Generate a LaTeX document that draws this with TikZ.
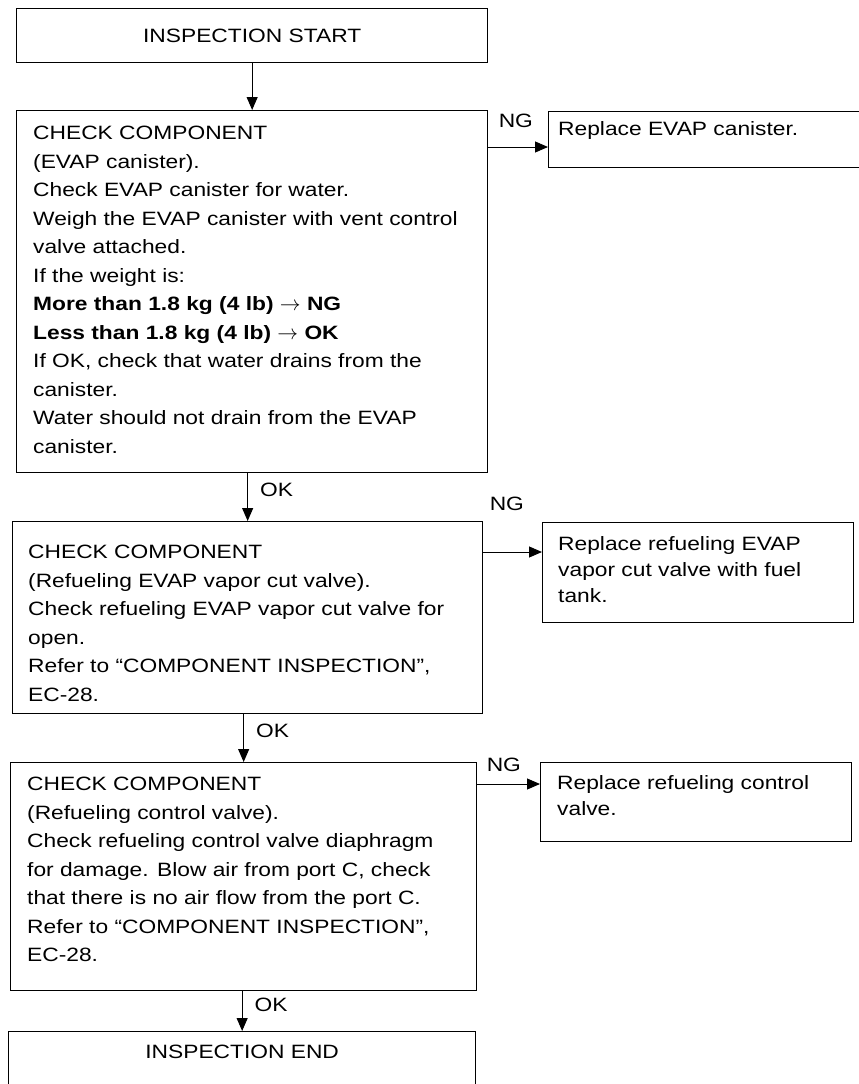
\documentclass[tikz,border=0pt]{standalone}
\usepackage{fontspec}
\setmainfont{Liberation Sans}[FakeStretch=1.18]
\usetikzlibrary{positioning, arrows.meta, calc}

\begin{document}
\begin{tikzpicture}[
    x=1pt, y=-1pt,
    frame/.style={draw, line width=1.3pt, anchor=north west, inner sep=0pt},
    body/.style={anchor=north west, align=left, inner sep=0pt, font=\fontsize{19.3}{28.5}\selectfont},
    side/.style={body, font=\fontsize{19.3}{26.3}\selectfont},
    lbl/.style={inner sep=0pt, font=\fontsize{19.3}{22}\selectfont},
    >={Triangle[length=13pt, width=11pt]},
    flow/.style={->, line width=1pt}
]
    \clip (0,0) rectangle (859,1084);
    \fill[white] (0,0) rectangle (859,1084);

    % Start of the inspection
    \node[frame, minimum width=471pt, minimum height=54pt] (start) at (16,8) {};
    \node[lbl] (starttxt) at (start.center) {INSPECTION START};

    % Step 1: EVAP canister
    \node[frame, minimum width=471pt, minimum height=362pt] (chk1) at (16,110) {};
    \node[body] (chk1txt) at (33,126) {CHECK COMPONENT\\(EVAP canister).\\Check EVAP canister for water.\\Weigh the EVAP canister with vent control\\valve attached.\\If the weight is:\\\textbf{More than 1.8 kg (4 lb) $\rightarrow$ NG}\\\textbf{Less than 1.8 kg (4 lb) $\rightarrow$ OK}\\If OK, check that water drains from the\\canister.\\Water should not drain from the EVAP\\canister.};
    \node[frame, minimum width=330pt, minimum height=56pt] (rep1) at (548,111) {};
    \node[side] (rep1txt) at (558,121) {Replace EVAP canister.};

    % Step 2: refueling EVAP vapor cut valve
    \node[frame, minimum width=470pt, minimum height=192pt] (chk2) at (12,521) {};
    \node[body] (chk2txt) at (28,545) {CHECK COMPONENT\\(Refueling EVAP vapor cut valve).\\Check refueling EVAP vapor cut valve for\\open.\\Refer to “COMPONENT INSPECTION”,\\EC-28.};
    \node[frame, minimum width=311pt, minimum height=100pt] (rep2) at (542,522) {};
    \node[side] (rep2txt) at (558,536) {Replace refueling EVAP\\vapor cut valve with fuel\\tank.};

    % Step 3: refueling control valve
    \node[frame, minimum width=466pt, minimum height=228pt] (chk3) at (10,762) {};
    \node[body] (chk3txt) at (27,777) {CHECK COMPONENT\\(Refueling control valve).\\Check refueling control valve diaphragm\\for damage. Blow air from port C, check\\that there is no air flow from the port C.\\Refer to “COMPONENT INSPECTION”,\\EC-28.};
    \node[frame, minimum width=311pt, minimum height=79pt] (rep3) at (540,762) {};
    \node[side] (rep3txt) at (557,775) {Replace refueling control\\valve.};

    % End
    \node[frame, minimum width=467pt, minimum height=80pt] (finish) at (8,1031) {};
    \node[lbl] (finishtxt) at ([yshift=-21pt]finish.north) {INSPECTION END};

    % OK path
    \draw[flow] (start.south) -- (chk1.north);
    \draw[flow] (chk1.south -| chk2.north) -- (chk2.north)
        node[lbl, pos=0.35, right=12pt] (ok1) {OK};
    \draw[flow] (chk2.south -| chk3.north) -- (chk3.north)
        node[lbl, pos=0.35, right=12pt] (ok2) {OK};
    \draw[flow] (chk3.south -| finish.north) -- (finish.north)
        node[lbl, pos=0.35, right=12pt] (ok3) {OK};

    % NG branches
    \draw[flow] ($(chk1.north east)+(0,37)$) coordinate (ng1s) -- (ng1s -| rep1.west)
        node[lbl, pos=0, anchor=south west, xshift=10pt, yshift=19pt] (ng1) {NG};
    \draw[flow] ($(chk2.north east)+(0,31)$) coordinate (ng2s) -- (ng2s -| rep2.west)
        node[lbl, pos=0, anchor=south west, xshift=6pt, yshift=41pt] (ng2) {NG};
    \draw[flow] ($(chk3.north east)+(0,22)$) coordinate (ng3s) -- (ng3s -| rep3.west)
        node[lbl, pos=0, anchor=south west, xshift=9pt, yshift=12pt] (ng3) {NG};
\end{tikzpicture}
\end{document}
